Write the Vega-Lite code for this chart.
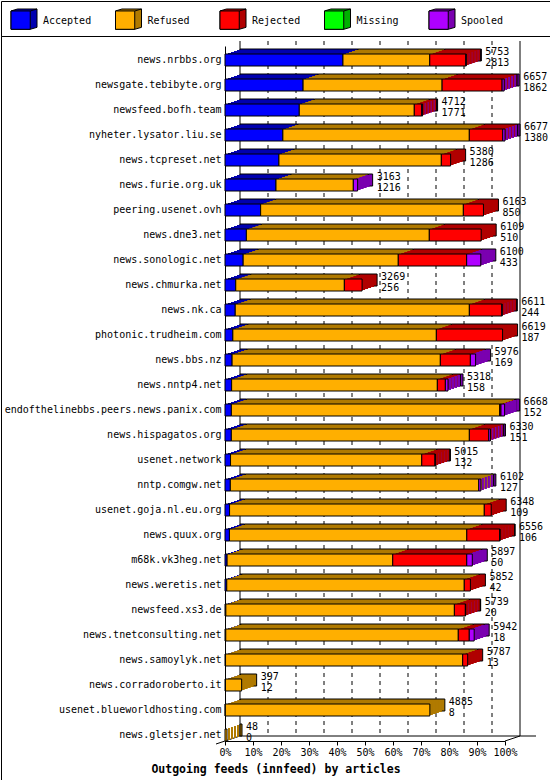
{
  "$schema": "https://vega.github.io/schema/vega-lite/v6.json",
  "padding": 0,
  "spacing": 0,
  "bounds": "flush",
  "config": {"view": {"stroke": "black", "strokeWidth": 1}, "font": "DejaVu Sans Mono"},
  "datasets": {
    "statuses": [{"status": "Accepted"}, {"status": "Refused"}, {"status": "Rejected"}, {"status": "Missing"}, {"status": "Spooled"}],
    "backplane": [{"v": 0}, {"v": 667.7}, {"v": 1335.4}, {"v": 2003.1}, {"v": 2670.8}, {"v": 3338.5}, {"v": 4006.2}, {"v": 4673.9}, {"v": 5341.6}, {"v": 6009.3}, {"v": 6677}],
    "feeds": [
      {"server": "news.nrbbs.org", "offered": 5753, "Accepted": 2813, "Refused": 2070, "Rejected": 860, "Missing": 0, "Spooled": 10},
      {"server": "newsgate.tebibyte.org", "offered": 6657, "Accepted": 1862, "Refused": 3315, "Rejected": 1431, "Missing": 0, "Spooled": 49},
      {"server": "newsfeed.bofh.team", "offered": 4712, "Accepted": 1771, "Refused": 2743, "Rejected": 176, "Missing": 0, "Spooled": 22},
      {"server": "nyheter.lysator.liu.se", "offered": 6677, "Accepted": 1380, "Refused": 4446, "Rejected": 797, "Missing": 0, "Spooled": 54},
      {"server": "news.tcpreset.net", "offered": 5380, "Accepted": 1286, "Refused": 3873, "Rejected": 221, "Missing": 0, "Spooled": 0},
      {"server": "news.furie.org.uk", "offered": 3163, "Accepted": 1216, "Refused": 1844, "Rejected": 0, "Missing": 0, "Spooled": 103},
      {"server": "peering.usenet.ovh", "offered": 6163, "Accepted": 850, "Refused": 4834, "Rejected": 479, "Missing": 0, "Spooled": 0},
      {"server": "news.dne3.net", "offered": 6109, "Accepted": 510, "Refused": 4362, "Rejected": 1237, "Missing": 0, "Spooled": 0},
      {"server": "news.sonologic.net", "offered": 6100, "Accepted": 433, "Refused": 3699, "Rejected": 1631, "Missing": 0, "Spooled": 337},
      {"server": "news.chmurka.net", "offered": 3269, "Accepted": 256, "Refused": 2590, "Rejected": 423, "Missing": 0, "Spooled": 0},
      {"server": "news.nk.ca", "offered": 6611, "Accepted": 244, "Refused": 5583, "Rejected": 773, "Missing": 0, "Spooled": 11},
      {"server": "photonic.trudheim.com", "offered": 6619, "Accepted": 187, "Refused": 4853, "Rejected": 1579, "Missing": 0, "Spooled": 0},
      {"server": "news.bbs.nz", "offered": 5976, "Accepted": 169, "Refused": 4966, "Rejected": 716, "Missing": 0, "Spooled": 125},
      {"server": "news.nntp4.net", "offered": 5318, "Accepted": 158, "Refused": 4906, "Rejected": 191, "Missing": 0, "Spooled": 63},
      {"server": "endofthelinebbs.peers.news.panix.com", "offered": 6668, "Accepted": 152, "Refused": 6399, "Rejected": 30, "Missing": 0, "Spooled": 87},
      {"server": "news.hispagatos.org", "offered": 6330, "Accepted": 151, "Refused": 5676, "Rejected": 463, "Missing": 0, "Spooled": 40},
      {"server": "usenet.network", "offered": 5015, "Accepted": 132, "Refused": 4560, "Rejected": 317, "Missing": 0, "Spooled": 6},
      {"server": "nntp.comgw.net", "offered": 6102, "Accepted": 127, "Refused": 5924, "Rejected": 0, "Missing": 0, "Spooled": 51},
      {"server": "usenet.goja.nl.eu.org", "offered": 6348, "Accepted": 109, "Refused": 6074, "Rejected": 165, "Missing": 0, "Spooled": 0},
      {"server": "news.quux.org", "offered": 6556, "Accepted": 106, "Refused": 5660, "Rejected": 787, "Missing": 0, "Spooled": 3},
      {"server": "m68k.vk3heg.net", "offered": 5897, "Accepted": 50, "Refused": 3950, "Rejected": 1765, "Missing": 0, "Spooled": 132},
      {"server": "news.weretis.net", "offered": 5852, "Accepted": 42, "Refused": 5664, "Rejected": 146, "Missing": 0, "Spooled": 0},
      {"server": "newsfeed.xs3.de", "offered": 5739, "Accepted": 20, "Refused": 5450, "Rejected": 262, "Missing": 0, "Spooled": 7},
      {"server": "news.tnetconsulting.net", "offered": 5942, "Accepted": 18, "Refused": 5545, "Rejected": 262, "Missing": 0, "Spooled": 117},
      {"server": "news.samoylyk.net", "offered": 5787, "Accepted": 13, "Refused": 5655, "Rejected": 119, "Missing": 0, "Spooled": 0},
      {"server": "news.corradoroberto.it", "offered": 397, "Accepted": 12, "Refused": 385, "Rejected": 0, "Missing": 0, "Spooled": 0},
      {"server": "usenet.blueworldhosting.com", "offered": 4885, "Accepted": 8, "Refused": 4877, "Rejected": 0, "Missing": 0, "Spooled": 0},
      {"server": "news.gletsjer.net", "offered": 48, "Accepted": 0, "Refused": 48, "Rejected": 0, "Missing": 0, "Spooled": 0}
    ]
  },
  "vconcat": [
    {
      "width": 549,
      "height": 35,
      "data": {"name": "statuses"},
      "encoding": {
        "x": {"field": "status", "type": "nominal", "scale": {"type": "point", "domain": ["Accepted", "Refused", "Rejected", "Missing", "Spooled"], "range": [23, 441], "padding": 0}, "axis": null}
      },
      "layer": [
        {
          "mark": {"type": "point", "filled": true, "opacity": 1, "size": 676, "stroke": "black", "strokeWidth": 1, "shape": "M-1,-0.58L-0.5,-0.73L1,-0.73L1,0.68L0.48,0.83L-1,0.83Z"},
          "encoding": {"fill": {"field": "status", "type": "nominal", "scale": {"domain": ["Accepted", "Refused", "Rejected", "Missing", "Spooled"], "range": ["#0000B0", "#B07A00", "#B00000", "#00B000", "#7A00B0"]}, "legend": null}}
        },
        {
          "mark": {"type": "point", "filled": true, "opacity": 1, "size": 676, "stroke": "black", "strokeWidth": 1, "shape": "M-1,-0.58L0.48,-0.58L0.48,0.83L-1,0.83ZM0.48,-0.58L1,-0.73"},
          "encoding": {"color": {"field": "status", "type": "nominal", "scale": {"domain": ["Accepted", "Refused", "Rejected", "Missing", "Spooled"], "range": ["#0000FF", "#FFAF00", "#FF0000", "#00FF00", "#AF00FF"]}, "legend": null}}
        },
        {
          "mark": {"type": "text", "align": "left", "baseline": "middle", "dx": 19, "dy": 2, "font": "DejaVu Sans Mono", "fontSize": 10, "color": "black"},
          "encoding": {"text": {"field": "status"}}
        }
      ]
    },
    {
      "width": 549,
      "height": 744,
      "data": {"name": "feeds"},
      "encoding": {
        "y": {
          "field": "server", "type": "nominal",
          "scale": {"type": "band", "domain": ["news.nrbbs.org", "newsgate.tebibyte.org", "newsfeed.bofh.team", "nyheter.lysator.liu.se", "news.tcpreset.net", "news.furie.org.uk", "peering.usenet.ovh", "news.dne3.net", "news.sonologic.net", "news.chmurka.net", "news.nk.ca", "photonic.trudheim.com", "news.bbs.nz", "news.nntp4.net", "endofthelinebbs.peers.news.panix.com", "news.hispagatos.org", "usenet.network", "nntp.comgw.net", "usenet.goja.nl.eu.org", "news.quux.org", "m68k.vk3heg.net", "news.weretis.net", "newsfeed.xs3.de", "news.tnetconsulting.net", "news.samoylyk.net", "news.corradoroberto.it", "usenet.blueworldhosting.com", "news.gletsjer.net"], "range": [10, 705], "paddingInner": 0.52, "paddingOuter": 0.16, "align": 1},
          "axis": {"orient": "left", "offset": -224, "title": null, "ticks": false, "domainColor": "black", "labelColor": "black", "labelFont": "DejaVu Sans Mono", "labelFontSize": 10, "labelPadding": 4, "labelLimit": 0}
        }
      },
      "layer": [
        {
          "data": {"name": "backplane"},
          "mark": {"type": "rule", "color": "black", "strokeWidth": 1, "xOffset": 15, "yOffset": -19, "y2Offset": 1},
          "encoding": {
            "x": {
              "field": "v", "type": "quantitative",
              "scale": {"domain": [0, 6677], "range": [224, 504], "nice": false},
              "axis": {"orient": "bottom", "offset": -39, "values": [0, 667.7, 1335.4, 2003.1, 2670.8, 3338.5, 4006.2, 4673.9, 5341.6, 6009.3, 6677], "labelExpr": "round(datum.value / 66.77) + '%'", "grid": false, "domainColor": "black", "tickColor": "black", "tickSize": 4, "labelColor": "black", "labelFont": "DejaVu Sans Mono", "labelFontSize": 10, "labelPadding": 2, "labelFlush": false, "labelOverlap": false, "title": "Outgoing feeds (innfeed) by articles", "titleFont": "DejaVu Sans Mono", "titleFontSize": 11.5, "titleFontWeight": "bold", "titleColor": "black", "titleX": 274.5, "titleY": 31, "titleAlign": "center", "titleBaseline": "alphabetic"}
            },
            "y": {"datum": "news.nrbbs.org", "type": "nominal"},
            "y2": {"datum": "news.gletsjer.net"},
            "strokeDash": {"condition": {"test": "datum.v == 0 || datum.v == 6677", "value": [1, 0]}, "value": [4, 4]}
          }
        },
        {
          "data": {"values": [{}]},
          "mark": {"type": "rule", "color": "black", "strokeWidth": 1, "xOffset": 15, "x2Offset": 31, "yOffset": 1},
          "encoding": {
            "x": {"datum": 0, "type": "quantitative"},
            "x2": {"datum": 6677},
            "y": {"datum": "news.gletsjer.net", "type": "nominal"}
          }
        },
        {
          "data": {"values": [{}]},
          "mark": {"type": "rule", "color": "black", "strokeWidth": 1, "xOffset": -9, "x2Offset": 15, "yOffset": 9, "y2Offset": 1},
          "encoding": {
            "x": {"datum": 0, "type": "quantitative"},
            "x2": {"datum": 0},
            "y": {"datum": "news.gletsjer.net", "type": "nominal"},
            "y2": {"datum": "news.gletsjer.net"}
          }
        },
        {
          "data": {"values": [{}]},
          "mark": {"type": "rule", "color": "black", "strokeWidth": 1, "xOffset": 0, "x2Offset": 15, "yOffset": 6, "y2Offset": 1},
          "encoding": {
            "x": {"datum": 6677, "type": "quantitative"},
            "x2": {"datum": 6677},
            "y": {"datum": "news.gletsjer.net", "type": "nominal"},
            "y2": {"datum": "news.gletsjer.net"}
          }
        },
        {
          "transform": [{"fold": ["Accepted", "Missing", "Refused", "Rejected", "Spooled"], "as": ["status", "articles"]}, {"filter": "datum.articles > 0"}],
          "mark": {"type": "bar", "xOffset": 15, "x2Offset": 15, "yOffset": -5, "y2Offset": -5, "stroke": "black", "strokeWidth": 1},
          "encoding": {
            "x": {"field": "articles", "type": "quantitative", "stack": "zero"},
            "order": {"field": "status", "type": "nominal", "sort": "ascending"},
            "fill": {"field": "status", "type": "nominal", "scale": {"domain": ["Accepted", "Refused", "Rejected", "Missing", "Spooled"], "range": ["#0000B0", "#B07A00", "#B00000", "#00B000", "#7A00B0"]}, "legend": null}
          }
        },
        {
          "transform": [{"fold": ["Accepted", "Missing", "Refused", "Rejected", "Spooled"], "as": ["status", "articles"]}, {"filter": "datum.articles > 0"}],
          "mark": {"type": "bar", "xOffset": 12, "x2Offset": 12, "yOffset": -4, "y2Offset": -4, "strokeWidth": 0},
          "encoding": {
            "x": {"field": "articles", "type": "quantitative", "stack": "zero"},
            "order": {"field": "status", "type": "nominal", "sort": "ascending"},
            "fill": {"field": "status", "type": "nominal", "legend": null}
          }
        },
        {
          "transform": [{"fold": ["Accepted", "Missing", "Refused", "Rejected", "Spooled"], "as": ["status", "articles"]}, {"filter": "datum.articles > 0"}],
          "mark": {"type": "bar", "xOffset": 9, "x2Offset": 9, "yOffset": -3, "y2Offset": -3, "strokeWidth": 0},
          "encoding": {
            "x": {"field": "articles", "type": "quantitative", "stack": "zero"},
            "order": {"field": "status", "type": "nominal", "sort": "ascending"},
            "fill": {"field": "status", "type": "nominal", "legend": null}
          }
        },
        {
          "transform": [{"fold": ["Accepted", "Missing", "Refused", "Rejected", "Spooled"], "as": ["status", "articles"]}, {"filter": "datum.articles > 0"}],
          "mark": {"type": "bar", "xOffset": 6, "x2Offset": 6, "yOffset": -2, "y2Offset": -2, "strokeWidth": 0},
          "encoding": {
            "x": {"field": "articles", "type": "quantitative", "stack": "zero"},
            "order": {"field": "status", "type": "nominal", "sort": "ascending"},
            "fill": {"field": "status", "type": "nominal", "legend": null}
          }
        },
        {
          "transform": [{"fold": ["Accepted", "Missing", "Refused", "Rejected", "Spooled"], "as": ["status", "articles"]}, {"filter": "datum.articles > 0"}],
          "mark": {"type": "bar", "xOffset": 3, "x2Offset": 3, "yOffset": -1, "y2Offset": -1, "strokeWidth": 0},
          "encoding": {
            "x": {"field": "articles", "type": "quantitative", "stack": "zero"},
            "order": {"field": "status", "type": "nominal", "sort": "ascending"},
            "fill": {"field": "status", "type": "nominal", "legend": null}
          }
        },
        {
          "transform": [{"fold": ["Accepted", "Missing", "Refused", "Rejected", "Spooled"], "as": ["status", "articles"]}, {"filter": "datum.articles > 0"}],
          "mark": {"type": "bar", "stroke": "black", "strokeWidth": 1},
          "encoding": {
            "x": {"field": "articles", "type": "quantitative", "stack": "zero"},
            "order": {"field": "status", "type": "nominal", "sort": "ascending"},
            "color": {"field": "status", "type": "nominal", "scale": {"domain": ["Accepted", "Refused", "Rejected", "Missing", "Spooled"], "range": ["#0000FF", "#FFAF00", "#FF0000", "#00FF00", "#AF00FF"]}, "legend": null}
          }
        },
        {
          "mark": {"type": "text", "align": "left", "baseline": "alphabetic", "dx": 19, "dy": -5, "font": "DejaVu Sans Mono", "fontSize": 10, "color": "black"},
          "encoding": {
            "x": {"field": "offered", "type": "quantitative"},
            "text": {"field": "offered", "type": "quantitative", "format": "d"}
          }
        },
        {
          "mark": {"type": "text", "align": "left", "baseline": "alphabetic", "dx": 19, "dy": 6, "font": "DejaVu Sans Mono", "fontSize": 10, "color": "black"},
          "encoding": {
            "x": {"field": "offered", "type": "quantitative"},
            "text": {"field": "Accepted", "type": "quantitative", "format": "d"}
          }
        }
      ]
    }
  ]
}
